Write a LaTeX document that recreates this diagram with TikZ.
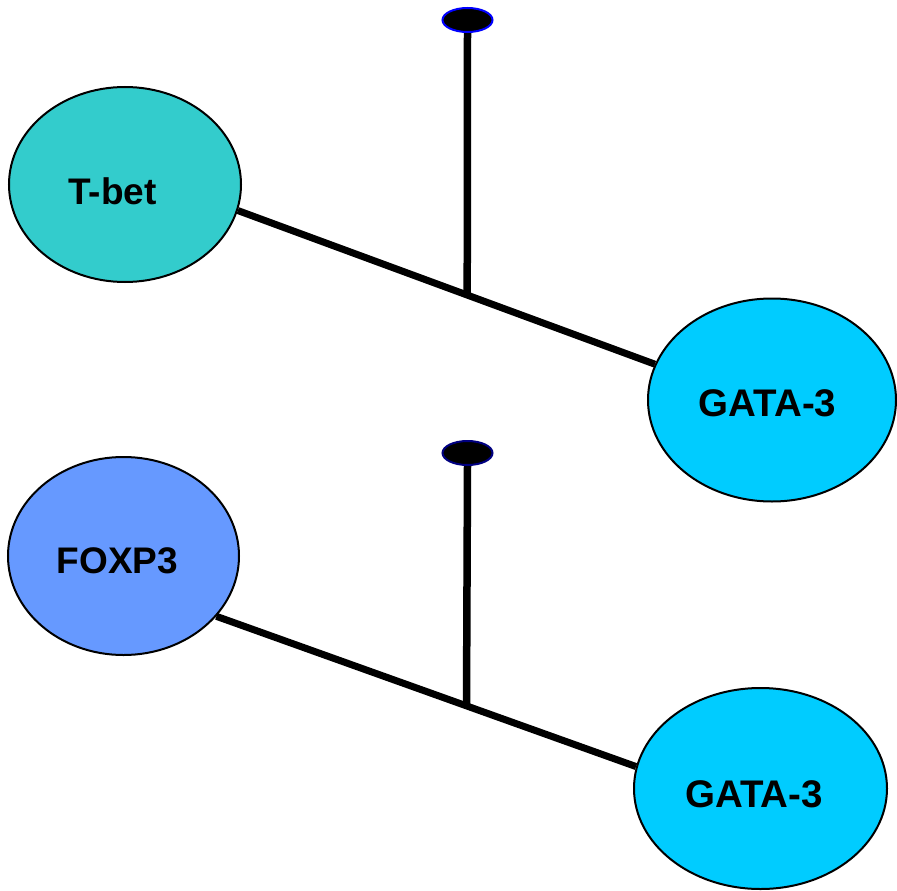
\documentclass[tikz,border=0pt]{standalone}
\usepackage{fontspec}
\setmainfont{Liberation Sans}
\usetikzlibrary{shapes.geometric,calc}
\pgfdeclarelayer{background}
\pgfsetlayers{background,main}
\definecolor{tbetfill}{RGB}{51,204,204}
\definecolor{gatafill}{RGB}{0,204,255}
\definecolor{foxfill}{RGB}{102,153,255}
\definecolor{navyline}{RGB}{0,0,128}
\tikzset{
  factor/.style={ellipse, draw=black, line width=2pt, inner sep=0pt},
  factorname/.style={anchor=base, inner sep=0pt, font=\fontsize{37}{44}\selectfont\bfseries},
  gataname/.style={factorname, font=\fontsize{38.5}{46}\selectfont\bfseries},
  knob/.style={ellipse, fill=black, line width=2pt, inner sep=0pt,
    minimum width=50pt, minimum height=24pt},
  stem/.style={line width=7.5pt},
  bar/.style={line width=7pt}
}
\begin{document}
\begin{tikzpicture}[x=1pt, y=-1pt]
\useasboundingbox (0,0) rectangle (897,891);

% upper pair: T-bet and GATA-3
\node[factor, fill=tbetfill, minimum width=232pt, minimum height=195pt] (tbet) at (125,184.5) {};
\node[factorname] (tbetname) at (112.5,204) {T-bet};
\node[factor, fill=gatafill, minimum width=248pt, minimum height=203pt] (gataA) at (772,400) {};
\node[gataname] (gataAname) at (767.5,416) {GATA-3};
\node[knob, draw=blue] (knobA) at (467.5,20) {};

% lower pair: FOXP3 and GATA-3
\node[factor, fill=foxfill, minimum width=231pt, minimum height=198pt] (foxp) at (123.5,556) {};
\node[factorname] (foxpname) at (117.5,573) {FOXP3};
\node[factor, fill=gatafill, minimum width=253pt, minimum height=201pt] (gataB) at (760.5,788.5) {};
\node[gataname] (gataBname) at (754,807) {GATA-3};
\node[knob, draw=navyline] (knobB) at (467.5,453) {};

% junctions where the stems meet the bars
\coordinate (joinA) at ($(tbet.-13.8)!0.55!(gataA.163.6)$);
\coordinate (joinB) at ($(foxp.-33.5)!0.596!(gataB.170.7)$);

\begin{pgfonlayer}{background}
  \draw[bar] (tbet.-13.8) -- (gataA.163.6);
  \draw[bar] (foxp.-33.5) -- (gataB.170.7);
  \draw[stem] (knobA.south) -- (joinA);
  \draw[stem] (knobB.south) -- (joinB);
\end{pgfonlayer}
\end{tikzpicture}
\end{document}
